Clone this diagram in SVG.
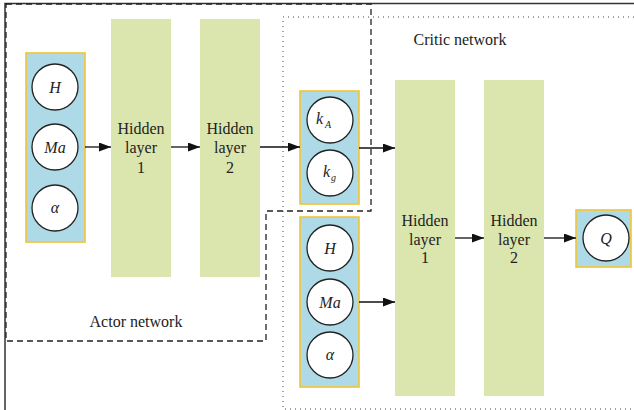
<svg xmlns="http://www.w3.org/2000/svg" width="634" height="410" viewBox="0 0 634 410">
<defs>
<marker id="ah" markerWidth="12" markerHeight="9" refX="12" refY="4.5" orient="auto" markerUnits="userSpaceOnUse">
<path d="M0,0 L12,4.5 L0,9 Z" fill="#111"/>
</marker>
<style>
.panel{fill:#ADDAE6;stroke:#F4C430;stroke-width:1.6}
.hid{fill:#DBE6AE}
.node{fill:#fff;stroke:#222;stroke-width:1.3}
.lbl{font-size:16px;fill:#222;text-anchor:middle}
.var{font-size:16px;font-style:italic;fill:#222;text-anchor:middle}
.sub{font-size:10px}
.conn{stroke:#111;stroke-width:1.3;fill:none;marker-end:url(#ah)}
</style>
</defs>
<rect width="634" height="410" fill="#fff"/>
<g font-family="Liberation Serif, serif">
<g id="frame">
<path d="M5,410 L5,3.5 L634,3.5" fill="none" stroke="#333" stroke-width="1.5"/>
</g>
<g id="actor-network">
<path d="M6,4 L371,4 L371,211 L266,211 L266,341 L6,341 Z" fill="none" stroke="#222" stroke-width="1.3" stroke-dasharray="6,4"/>
<text class="lbl" x="136" y="327" font-family="Liberation Serif">Actor network</text>
</g>
<g id="critic-network">
<path d="M634,17 L283,17 L283,409 L634,409" fill="none" stroke="#444" stroke-width="1" stroke-dasharray="1,4"/>
<text class="lbl" x="460" y="45" font-family="Liberation Serif">Critic network</text>
</g>
<g id="actor-input">
<rect class="panel" x="26" y="53" width="59" height="189"/>
<circle class="node" cx="55" cy="87" r="23"/>
<text class="var" x="55" y="93" font-family="Liberation Serif">H</text>
<circle class="node" cx="55" cy="147" r="23"/>
<text class="var" x="55" y="153" font-family="Liberation Serif">Ma</text>
<circle class="node" cx="55" cy="208" r="23"/>
<text class="var" x="55" y="213" font-family="Liberation Serif" font-size="18">α</text>
</g>
<g id="actor-hidden-1">
<rect class="hid" x="111" y="19" width="60" height="258"/>
<text class="lbl" x="141" y="134" font-family="Liberation Serif">Hidden</text>
<text class="lbl" x="141" y="153" font-family="Liberation Serif">layer</text>
<text class="lbl" x="141" y="173" font-family="Liberation Serif">1</text>
</g>
<g id="actor-hidden-2">
<rect class="hid" x="200" y="19" width="60" height="258"/>
<text class="lbl" x="230" y="134" font-family="Liberation Serif">Hidden</text>
<text class="lbl" x="230" y="153" font-family="Liberation Serif">layer</text>
<text class="lbl" x="230" y="173" font-family="Liberation Serif">2</text>
</g>
<g id="action-output">
<rect class="panel" x="300" y="91" width="59" height="113"/>
<circle class="node" cx="330" cy="120" r="23"/>
<text class="var" x="316" y="124" font-family="Liberation Serif" style="text-anchor:start">k<tspan class="sub" dx="2" dy="4">A</tspan></text>
<circle class="node" cx="330" cy="173" r="23"/>
<text class="var" x="323" y="177" font-family="Liberation Serif" style="text-anchor:start">k<tspan class="sub" dx="1" dy="4">g</tspan></text>
</g>
<g id="critic-input">
<rect class="panel" x="300" y="217" width="59" height="170"/>
<circle class="node" cx="330" cy="248" r="23"/>
<text class="var" x="330" y="254" font-family="Liberation Serif">H</text>
<circle class="node" cx="330" cy="302" r="23"/>
<text class="var" x="330" y="308" font-family="Liberation Serif">Ma</text>
<circle class="node" cx="330" cy="355" r="23"/>
<text class="var" x="330" y="360" font-family="Liberation Serif" font-size="18">α</text>
</g>
<g id="critic-hidden-1">
<rect class="hid" x="395" y="80" width="60" height="316"/>
<text class="lbl" x="425" y="226" font-family="Liberation Serif">Hidden</text>
<text class="lbl" x="425" y="244.5" font-family="Liberation Serif">layer</text>
<text class="lbl" x="425" y="263" font-family="Liberation Serif">1</text>
</g>
<g id="critic-hidden-2">
<rect class="hid" x="484" y="80" width="60" height="316"/>
<text class="lbl" x="514" y="226" font-family="Liberation Serif">Hidden</text>
<text class="lbl" x="514" y="244.5" font-family="Liberation Serif">layer</text>
<text class="lbl" x="514" y="263" font-family="Liberation Serif">2</text>
</g>
<g id="q-output">
<rect class="panel" x="576" y="210" width="55" height="57"/>
<circle class="node" cx="606" cy="238" r="23"/>
<text class="var" x="606" y="244" font-family="Liberation Serif">Q</text>
</g>
<g id="connectors">
<line class="conn" x1="85" y1="147" x2="111" y2="147"/>
<line class="conn" x1="171" y1="147" x2="200" y2="147"/>
<line class="conn" x1="260" y1="147" x2="300" y2="147"/>
<line class="conn" x1="359" y1="148" x2="395" y2="148"/>
<line class="conn" x1="359" y1="302" x2="395" y2="302"/>
<line class="conn" x1="455" y1="238" x2="484" y2="238"/>
<line class="conn" x1="544" y1="238" x2="576" y2="238"/>
</g>
</g>
</svg>
